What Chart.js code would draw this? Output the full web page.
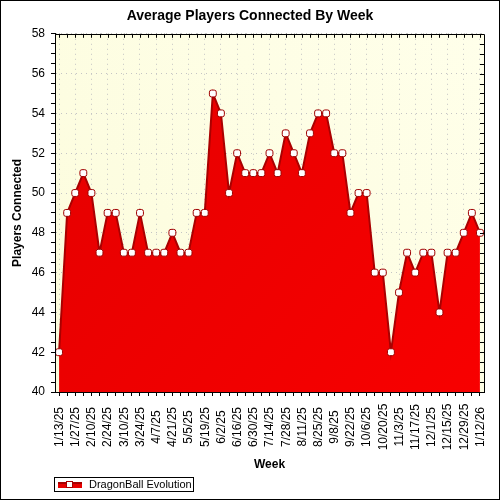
<!DOCTYPE html>
<html>
<head>
<meta charset="utf-8">
<script src="https://cdn.jsdelivr.net/npm/chart.js@4.4.1/dist/chart.umd.min.js"></script>
<style>
    html, body { margin: 0; padding: 0; background: #fff; }
    #wrap { width: 500px; height: 500px; }
</style>
</head>
<body>
<div id="wrap"><canvas id="chart" width="500" height="500"></canvas></div>
<script>
// weekly samples, one label per Monday
const weeks = [
    "1/13/25", "1/20/25", "1/27/25", "2/3/25", "2/10/25", "2/17/25", "2/24/25", "3/3/25",
    "3/10/25", "3/17/25", "3/24/25", "3/31/25", "4/7/25", "4/14/25", "4/21/25", "4/28/25",
    "5/5/25", "5/12/25", "5/19/25", "5/26/25", "6/2/25", "6/9/25", "6/16/25", "6/23/25",
    "6/30/25", "7/7/25", "7/14/25", "7/21/25", "7/28/25", "8/4/25", "8/11/25", "8/18/25",
    "8/25/25", "9/1/25", "9/8/25", "9/15/25", "9/22/25", "9/29/25", "10/6/25", "10/13/25",
    "10/20/25", "10/27/25", "11/3/25", "11/10/25", "11/17/25", "11/24/25", "12/1/25", "12/8/25",
    "12/15/25", "12/22/25", "12/29/25", "1/5/26", "1/12/26"
];
const players = [
    42, 49, 50, 51, 50, 47, 49, 49,
    47, 47, 49, 47, 47, 47, 48, 47,
    47, 49, 49, 55, 54, 50, 52, 51,
    51, 51, 52, 51, 53, 52, 51, 53,
    54, 54, 52, 52, 49, 50, 50, 46,
    46, 42, 45, 47, 46, 47, 47, 44,
    47, 47, 48, 49, 48
];
const seriesName = "DragonBall Evolution";
const yMin = 40;
const yMax = 58;

const FONT = "'Liberation Sans', Arial, sans-serif";
Chart.defaults.font.family = FONT;
Chart.defaults.color = "#000";

const CHART_BOTTOM = 392;
const LEGEND_SPACE = 28;

// plot background
const backdrop = {
    id: "backdrop",
    beforeDraw(chart) {
        const { ctx, chartArea: a } = chart;
        ctx.save();
        ctx.fillStyle = "#fff";
        ctx.fillRect(0, 0, chart.width, chart.height);
        const g = ctx.createLinearGradient(a.left, a.bottom, a.right, a.top);
        g.addColorStop(0, "#fcfcdc");
        g.addColorStop(1, "#ffffea");
        ctx.fillStyle = g;
        ctx.fillRect(a.left, a.top, a.right - a.left, a.bottom - a.top);
        ctx.restore();
    }
};

// frame, inner ticks, rotated week labels, legend box, outer border
const decor = {
    id: "decor",
    afterDraw(chart) {
        const { ctx, chartArea: a } = chart;
        const xs = chart.scales.x;
        const ys = chart.scales.y;
        ctx.save();
        ctx.strokeStyle = "#000";
        ctx.lineWidth = 1;
        ctx.beginPath();
        ctx.rect(Math.round(a.left) + 0.5, Math.round(a.top) + 0.5,
            Math.round(a.right - a.left), Math.round(a.bottom - a.top));
        // inward ticks on top and right
        xs.ticks.forEach((t, i) => {
            const x = Math.round(xs.getPixelForValue(i)) + 0.5;
            ctx.moveTo(x, a.top);
            ctx.lineTo(x, a.top + 4);
        });
        ys.ticks.forEach(t => {
            const y = Math.round(ys.getPixelForValue(t.value)) + 0.5;
            ctx.moveTo(a.right, y);
            ctx.lineTo(a.right - 4, y);
        });
        ctx.stroke();

        // week labels, centred and rotated
        ctx.fillStyle = "#000";
        ctx.font = "12px " + FONT;
        ctx.textAlign = "center";
        ctx.textBaseline = "middle";
        weeks.forEach((w, i) => {
            if (i % 2) return;
            ctx.save();
            ctx.translate(xs.getPixelForValue(i) + 0.5, 427);
            ctx.rotate(-Math.PI / 2);
            ctx.fillText(w, 0, 0);
            ctx.restore();
        });

        // legend
        ctx.strokeStyle = "#000";
        ctx.strokeRect(54.5, 477.5, 139, 14);
        ctx.fillStyle = "#e80000";
        ctx.fillRect(58, 482, 24, 6);
        ctx.strokeStyle = "#a80000";
        ctx.lineWidth = 2;
        ctx.beginPath();
        ctx.moveTo(58, 483);
        ctx.lineTo(82, 483);
        ctx.stroke();
        ctx.lineWidth = 1;
        ctx.fillStyle = "#fff";
        ctx.fillRect(66.5, 481.5, 6, 6);
        ctx.strokeRect(66.5, 481.5, 6, 6);
        ctx.fillStyle = "#000";
        ctx.font = "11px " + FONT;
        ctx.textAlign = "left";
        ctx.textBaseline = "middle";
        ctx.fillText(seriesName, 89, 485);

        ctx.strokeStyle = "#000";
        ctx.strokeRect(0.5, 0.5, chart.width - 1, chart.height - 1);
        ctx.restore();
    }
};

const ctx = document.getElementById("chart").getContext("2d");

new Chart(ctx, {
    type: "line",
    data: {
        labels: weeks,
        datasets: [{
            label: seriesName,
            data: players,
            fill: "start",
            tension: 0,
            borderColor: "#aa0000",
            borderWidth: 2,
            backgroundColor: function (c) {
                const a = c.chart.chartArea;
                if (!a) return "#ee0000";
                const g = c.chart.ctx.createLinearGradient(a.left, a.top, a.right, a.bottom);
                g.addColorStop(0, "#e40000");
                g.addColorStop(1, "#f80000");
                return g;
            },
            pointStyle: "rectRounded",
            pointRadius: 4,
            pointBackgroundColor: "#fff",
            pointBorderColor: "#a00000",
            pointBorderWidth: 1
        }]
    },
    options: {
        responsive: false,
        animation: false,
        devicePixelRatio: 1,
        layout: { padding: { left: 0, right: 0, top: 0, bottom: LEGEND_SPACE } },
        plugins: {
            legend: { display: false },
            tooltip: { enabled: false },
            title: {
                display: true,
                text: "Average Players Connected By Week",
                font: { size: 14, weight: "bold" },
                color: "#000",
                padding: { top: 8, bottom: 9 }
            }
        },
        scales: {
            x: {
                type: "category",
                offset: true,
                grid: {
                    offset: false,
                    color: c => (c.index % 2 === 0 ? "#c4c4c4" : "rgba(0,0,0,0)"),
                    tickColor: "#000",
                    tickLength: 4
                },
                border: { color: "#000", dash: [1, 4] },
                ticks: { display: false, autoSkip: false },
                title: {
                    display: true,
                    text: "Week",
                    font: { size: 12, weight: "bold" },
                    padding: { top: 0, bottom: 0 }
                },
                afterFit: s => { s.height = 500 - CHART_BOTTOM - LEGEND_SPACE; }
            },
            y: {
                min: yMin,
                max: yMax,
                grid: {
                    color: c => (c.tick && c.tick.value % 2 === 0 ? "#c4c4c4" : "rgba(0,0,0,0)"),
                    tickColor: "#000",
                    tickLength: 4
                },
                border: { color: "#000", dash: [1, 4] },
                ticks: {
                    stepSize: 0.5,
                    autoSkip: false,
                    padding: 6,
                    font: { size: 12 },
                    callback: v => (v % 2 === 0 ? v : "")
                },
                title: {
                    display: true,
                    text: "Players Connected",
                    font: { size: 12, weight: "bold" },
                    padding: { top: 10, bottom: 0 }
                },
                afterFit: s => { s.width = 55; }
            },
            // empty strip on the right, keeps the title centred on the page
            gap: {
                position: "right",
                min: yMin,
                max: yMax,
                grid: { display: false },
                border: { display: false },
                ticks: { display: false },
                afterFit: s => { s.width = 16; }
            }
        }
    },
    plugins: [backdrop, decor]
});
</script>
</body>
</html>
